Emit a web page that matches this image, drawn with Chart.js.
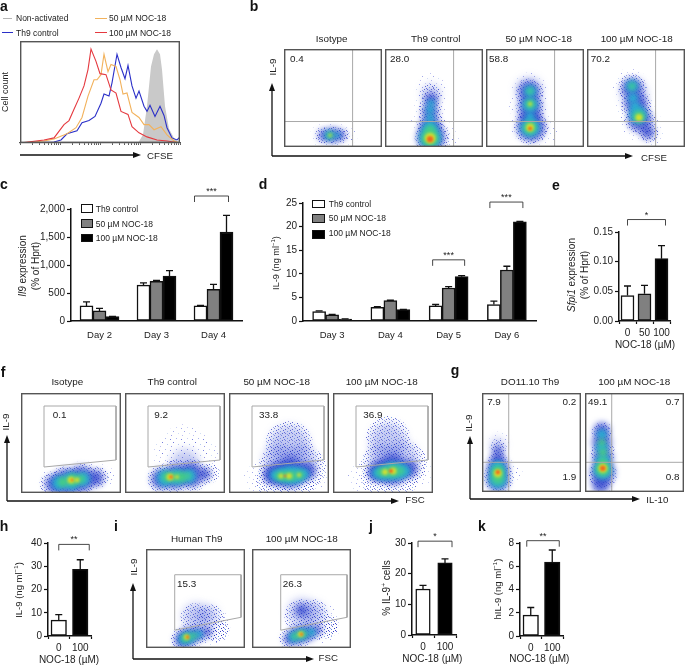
<!DOCTYPE html>
<html>
<head>
<meta charset="utf-8">
<script src="https://cdn.jsdelivr.net/npm/chart.js@4"></script>
<style>
  html, body { margin: 0; padding: 0; background: #fff; }
  #page { position: relative; width: 685px; height: 666px; overflow: hidden; font-family: "Liberation Sans", Arial, sans-serif; color: #222; filter: blur(0.3px); }
  #page canvas { position: absolute; }
  #page svg { position: absolute; left: 0; top: 0; }
  .t { position: absolute; white-space: nowrap; line-height: 1; }
  .t sup { font-size: 65%; line-height: 0; }
  .s { position: absolute; box-sizing: border-box; }
</style>
</head>
<body>
<div id="page"></div>
<script>
// panel a: CFSE histograms, [channel, % of plot height]
const aGrey = [[118,0],[123,8],[127,36],[131,75],[134,87],[137,92],[140,87],[142,72],[145,36],[149,14],[154,5],[159,0]];
const aBlue = [[0,0],[34,1],[41,3],[47,9],[57,12],[62,20],[69,22],[75,26],[81,39],[84,48],[89,46],[92,59],[97,87],[101,74],[105,63],[108,76],[112,56],[116,44],[119,51],[124,36],[127,31],[130,37],[135,26],[140,36],[144,27],[147,15],[152,5],[157,3],[160,6]];
const aOrange = [[0,0],[24,2],[34,4],[47,9],[56,15],[62,25],[68,46],[74,62],[77,62],[81,67],[84,87],[88,70],[91,77],[96,75],[100,62],[103,48],[107,49],[112,30],[119,25],[124,18],[129,18],[134,13],[141,16],[147,8],[154,2],[160,0]];
const aRed = [[0,0],[24,3],[34,5],[44,18],[49,22],[54,33],[59,44],[64,56],[68,72],[71,92],[76,80],[80,68],[86,67],[91,52],[96,49],[101,31],[108,28],[112,16],[119,10],[127,6],[137,3],[147,2],[160,0]];
const aTickVals = [0,12,19,24,28,31,34,36,38,40,52,59,64,68,71,74,76,78,80,92,99,104,108,111,114,116,118,120,132,139,144,148,151,154,156,158,160];

// panel c
const cDays = ["Day 2", "Day 3", "Day 4"];
const cControl = [270, 640, 270];
const c50 = [180, 710, 565];
const c100 = [80, 800, 1590];
const cControlTop = [340, 680, 278];
const c50Top = [225, 725, 655];
const c100Top = [82, 900, 1885];

// panel d
const dDays = ["Day 3", "Day 4", "Day 5", "Day 6"];
const dControl = [2, 2.9, 3.2, 3.5];
const d50 = [1.3, 4.3, 7, 10.8];
const d100 = [0.4, 2.4, 9.4, 21];
const dControlTop = [2.15, 3.05, 3.5, 4.2];
const d50Top = [1.4, 4.4, 7.3, 11.6];
const d100Top = [0.45, 2.45, 9.6, 21.1];

// panels e, h, j, k
const eDose = ["0", "50", "100"];
const eValues = [0.043, 0.046, 0.105];
const eTops = [0.059, 0.06, 0.127];
const twoDose = ["0", "100"];
const hValues = [6.8, 28.7];
const hTops = [9.2, 32.8];
const jValues = [15, 23.5];
const jTops = [16.2, 24.8];
const kValues = [1.8, 6.35];
const kTops = [2.45, 7.4];

// flow plots: density patches as [level, x %, y %, radius]
// level 0 sparse, 1 stipple, 2 haze, 3 blue, 4 cyan, 5 green, 6 yellow, 7 red
const bIsotype = [[0,38,12,11],[0,48,12,13],[0,60,12,11],[0,68,11,7],[1,40,12,8],[1,50,12,9],[1,60,12,7],[3,41,12,6],[3,50,12,7.5],[3,58,12,5],[4,46,12,4.5],[4,54,12,3],[5,47,12,3],[6,47,12,1.5]];
const bControl = [[0,46,60,15],[0,46,45,16],[0,45,28,18],[0,50,12,20],[0,66,6,11],[1,47,55,10],[1,46,40,11],[1,46,25,13],[1,48,10,17],[2,47,55,9],[3,47,48,7],[3,46,36,8],[3,46,22,10],[3,47,10,14],[4,47,45,3.5],[4,46,38,4],[4,46,30,4],[4,46,20,7],[4,46,10,11],[5,46,17,5],[5,46,9,8.5],[6,46,9,5.5],[7,46,8,3.2]];
const b50 = [[0,45,58,18],[0,43,42,19],[0,47,22,21],[0,63,14,10],[1,44,55,14],[1,45,40,14],[1,46,20,17],[2,44,58,13],[2,45,40,13],[3,44,57,10],[3,45,43,10],[3,45,31,10],[3,46,20,14],[4,45,57,6],[4,45,43,7.5],[4,45,31,4.5],[4,45,20,9.5],[5,45,57,3],[5,45,44,4.5],[5,45,20,6.5],[6,45,44,2],[6,45,20,4],[7,45,19,2]];
const b100 = [[0,44,62,18],[0,48,42,20],[0,55,26,20],[0,66,12,13],[1,46,60,14],[1,50,42,15],[1,54,28,15],[1,63,15,10],[2,48,55,13],[3,46,60,10],[3,50,44,11],[3,54,28,12],[3,62,15,7],[4,46,62,6],[4,47,50,5],[4,49,41,5],[4,52,33,8.5],[5,46,62,3],[5,53,31,6],[6,53,30,3.5]];
const fIsotype = [[0,30,9,14],[0,45,11,18],[0,62,14,18],[0,78,16,13],[0,88,17,8],[1,31,9,12],[1,45,11,15],[1,62,14,15],[1,78,16,10],[3,33,9,9],[3,45,11,13],[3,60,14,13],[3,75,15,8],[4,38,10,7],[4,50,12,9],[4,62,14,7],[5,42,11,5],[5,52,13,6],[5,60,14,4],[6,50,13,3.5],[6,56,13,2.5],[7,51,13,1.3]];
const fControl = [[0,60,45,24],[0,48,38,20],[0,75,38,18],[1,35,14,13],[1,50,17,17],[1,68,18,16],[1,85,20,10],[2,60,30,14],[3,36,14,10],[3,50,16,12],[3,66,18,12],[3,80,19,6],[4,40,15,8],[4,52,16,8],[4,64,17,7],[5,42,16,5],[5,50,16,5],[5,57,16,5],[5,63,17,3],[6,45,16,3.5],[6,52,16,2],[7,46,16,1.8]];
const f50 = [[0,30,15,15],[0,85,18,15],[1,60,48,24],[1,52,25,23],[1,75,25,22],[1,45,12,18],[1,68,10,18],[2,60,48,20],[2,50,32,16],[2,72,32,16],[3,42,18,8],[3,50,19,12],[3,62,20,15],[3,78,22,9],[4,46,18,5],[4,52,18,7],[4,60,18,9],[4,68,18,8],[4,75,19,5],[5,50,17,4],[5,56,17,5],[5,63,17,5],[5,71,18,4],[6,52,17,2.5],[6,60,17,3],[6,70,18,2],[7,56,17,1.2]];
const f100 = [[0,28,15,14],[0,88,20,13],[1,55,55,22],[1,50,28,22],[1,72,30,22],[1,45,14,17],[1,68,14,17],[2,55,52,18],[2,50,34,15],[2,70,36,15],[3,42,20,7],[3,48,22,11],[3,60,23,15],[3,76,24,9],[4,44,20,5],[4,50,20,7],[4,58,22,9],[4,66,22,8],[4,72,22,5],[5,48,21,4],[5,54,21,5],[5,61,22,6],[5,68,22,3.5],[6,52,21,3],[6,60,22,3.5],[7,58,22,2]];
const gControl = [[0,18,50,11],[0,20,20,17],[0,33,20,8],[1,16,45,8],[1,16,30,10],[1,17,15,15],[2,16,48,7],[3,16,42,5],[3,16,33,7],[3,16,23,11],[3,16,12,11],[4,16,27,4],[4,16,22,8],[4,16,13,9],[5,16,21,6],[5,16,14,6],[6,16,19,4],[7,16,20,2.2]];
const gNoc = [[0,18,60,11],[0,18,40,13],[0,18,15,15],[1,17,60,10],[1,18,40,12],[1,18,18,14],[3,17,62,8],[3,17,50,9.5],[3,18,35,10],[3,18,20,12],[3,16,8,9],[4,17,58,5],[4,17,45,6],[4,18,32,7],[4,18,22,9],[5,17,50,3.5],[5,18,40,4],[5,18,30,4.5],[5,18,23,7],[6,18,24,4.5],[7,18,24,2.8]];
const iControl = [[0,65,22,20],[1,50,30,15],[1,65,30,14],[1,72,18,12],[1,35,10,10],[1,48,13,12],[1,62,16,9],[1,75,18,7],[2,50,32,13],[2,62,32,11],[3,36,8,7],[3,42,11,9],[3,52,14,7],[3,62,16,5],[4,38,9,5],[4,44,11,6],[4,53,14,4],[5,40,10,4],[5,48,12,3],[6,41,11,2.8],[7,42,11,1.6]];
const iNoc = [[0,70,25,20],[1,50,32,17],[1,62,34,15],[1,75,22,12],[1,36,9,9],[1,50,14,12],[1,65,18,10],[1,80,20,7],[2,50,36,14],[2,62,34,12],[3,38,9,6],[3,46,13,9],[3,56,15,8],[3,66,18,5],[3,50,38,6],[4,42,11,5],[4,50,14,6],[4,60,16,4],[5,44,12,3.5],[5,52,14,3.5],[6,49,14,2.8],[7,50,14,1.5]];

// gates, in % of the plot
const bGateX = 70, bGateY = 26, gGateX = 27, gGateY = 30;
const fGate = [[23,26],[23,87],[95,87],[95,33],[23,26]];
const iGate = [[29,18],[29,74],[96,74],[96,31],[29,18]];

const page = document.getElementById("page");

function label(html, x, y, size, opt) {
  opt = opt || {};
  const d = document.createElement("div");
  d.className = "t";
  d.innerHTML = html;
  d.style.left = x + "px";
  d.style.top = y + "px";
  d.style.fontSize = size + "px";
  if (opt.bold) { d.style.fontWeight = "bold"; d.style.color = "#111"; }
  d.style.transform = opt.left ? "translate(0,-50%)" : "translate(-50%,-50%)" + (opt.rot ? " rotate(-90deg)" : "");
  page.appendChild(d);
}

function swatch(x0, y0, x1, y1, bg, border) {
  const d = document.createElement("div");
  d.className = "s";
  d.style.cssText = `left:${x0}px;top:${y0}px;width:${x1 - x0}px;height:${y1 - y0}px;background:${bg};` + (border ? "border:1.4px solid #111;" : "");
  page.appendChild(d);
}

function addCanvas(x0, y0, x1, y1) {
  const c = document.createElement("canvas");
  c.width = x1 - x0;
  c.height = y1 - y0;
  c.style.left = x0 + "px";
  c.style.top = y0 + "px";
  c.style.width = (x1 - x0) + "px";
  c.style.height = (y1 - y0) + "px";
  page.appendChild(c);
  return c;
}

// upward whiskers, one per bar
const whiskers = {
  id: "whiskers",
  afterDatasetsDraw(chart) {
    const ctx = chart.ctx, y = chart.scales.y;
    ctx.save();
    ctx.strokeStyle = "#111";
    ctx.lineWidth = 1.3;
    chart.data.datasets.forEach((ds, i) => {
      chart.getDatasetMeta(i).data.forEach((bar, n) => {
        const top = y.getPixelForValue(ds.tops[n]);
        ctx.beginPath();
        ctx.moveTo(bar.x, bar.y);
        ctx.lineTo(bar.x, top);
        ctx.moveTo(bar.x - 3.5, top);
        ctx.lineTo(bar.x + 3.5, top);
        ctx.stroke();
      });
    });
    ctx.restore();
  }
};

// significance bracket, anchored on two bars
const brackets = {
  id: "brackets",
  afterDraw(chart) {
    const ctx = chart.ctx;
    (chart.options.plugins.brackets.list || []).forEach(b => {
      const x0 = chart.getDatasetMeta(b.from[0]).data[b.from[1]].x + b.from[2];
      const x1 = chart.getDatasetMeta(b.to[0]).data[b.to[1]].x + b.to[2];
      const y = chart.scales.y.getPixelForValue(b.value);
      ctx.save();
      ctx.strokeStyle = "#333";
      ctx.lineWidth = 0.9;
      ctx.beginPath();
      ctx.moveTo(x0, y + 6);
      ctx.lineTo(x0, y);
      ctx.lineTo(x1, y);
      ctx.lineTo(x1, y + 6);
      ctx.stroke();
      ctx.fillStyle = "#222";
      ctx.font = "9px 'Liberation Sans'";
      ctx.textAlign = "center";
      ctx.fillText(b.text, (x0 + x1) / 2, y - 2);
      ctx.restore();
    });
  }
};

function barChart(box, plot, o) {
  const c = addCanvas(box[0], box[1], box[2], box[3]);
  return new Chart(c, {
    type: "bar",
    data: { labels: o.labels, datasets: o.series.map(s => ({
      data: s.data, tops: s.tops, backgroundColor: s.color, borderColor: "#111",
      borderWidth: 1.5, borderSkipped: false, barThickness: o.barWidth,
      categoryPercentage: o.catPct, barPercentage: 1
    })) },
    plugins: [whiskers, brackets],
    options: {
      responsive: false, animation: false, events: [],
      layout: { padding: { top: plot[1] - box[1], right: box[2] - plot[2], left: 0, bottom: 0 } },
      plugins: { legend: { display: false }, tooltip: { enabled: false }, brackets: { list: o.brackets } },
      scales: {
        x: {
          afterFit: s => { s.height = box[3] - plot[3]; },
          border: { color: "#111", width: 1.5 },
          grid: { display: o.xTicks, drawOnChartArea: false, tickLength: 3, tickColor: "#111", tickWidth: 1.2 },
          ticks: { color: "#222", padding: o.xPad, font: { size: o.xSize, family: "Liberation Sans" }, maxRotation: 0, autoSkip: false }
        },
        y: {
          min: 0, max: o.max,
          afterFit: s => { s.width = plot[0] - box[0]; },
          afterBuildTicks: s => { s.ticks = o.yTicks.map(v => ({ value: v })); },
          border: { color: "#111", width: 1.5 },
          grid: { drawOnChartArea: false, tickLength: 4, tickColor: "#111", tickWidth: 1.2 },
          ticks: { color: "#222", padding: 2, font: { size: o.ySize, family: "Liberation Sans" }, callback: o.yFmt }
        }
      }
    }
  });
}

// stippled fills for the low density fringes of the flow plots
function stipple(size, dots) {
  const t = document.createElement("canvas");
  t.width = t.height = size;
  const tc = t.getContext("2d");
  dots.forEach(d => {
    tc.fillStyle = d[2];
    tc.fillRect(d[0], d[1], 1, 1);
  });
  return tc.createPattern(t, "repeat");
}
const sparseFill = stipple(11, [[1,2,"rgba(90,100,220,.55)"],[7,1,"rgba(140,150,230,.45)"],[4,5,"rgba(70,80,210,.5)"],[9,7,"rgba(140,170,230,.4)"],[2,9,"rgba(110,110,220,.45)"]]);
const denseFill = stipple(7, [[0,1,"rgba(35,45,195,.7)"],[3,0,"rgba(70,90,215,.6)"],[5,2,"rgba(30,40,185,.7)"],[2,3,"rgba(45,110,215,.55)"],[6,4,"rgba(40,50,200,.65)"],[0,5,"rgba(60,70,210,.6)"],[4,5,"rgba(35,45,190,.7)"],[2,6,"rgba(90,110,220,.55)"]]);
const levelFill = [sparseFill, denseFill, "rgba(70,90,215,.3)", "rgba(50,70,205,.8)", "#2aaed2", "#48cf82", "#d6e02e", "#ee6a20"];
const levelBlur = [0, 0, 4, 3, 2.8, 2.4, 1.8, 1.2];

const softBlobs = {
  id: "softBlobs",
  beforeDatasetDraw(chart, args) {
    const b = chart.data.datasets[args.index].blur;
    if (b) chart.ctx.filter = `blur(${b}px)`;
  },
  afterDatasetDraw(chart) { chart.ctx.filter = "none"; }
};
const frame = {
  id: "frame",
  afterDraw(chart) {
    const a = chart.chartArea, ctx = chart.ctx;
    ctx.save();
    ctx.strokeStyle = "#555";
    ctx.lineWidth = 1.4;
    ctx.strokeRect(a.left + 0.7, a.top + 0.7, a.right - a.left - 1.4, a.bottom - a.top - 1.4);
    ctx.restore();
  }
};

function flowPlot(box, blobs, gates) {
  const c = addCanvas(box[0], box[1], box[2], box[3]);
  const sets = gates.map(g => ({
    type: "scatter", showLine: true, fill: false, data: g.map(p => ({ x: p[0], y: p[1] })),
    borderColor: "#a8a8a8", borderWidth: 1, pointRadius: 0, order: -20
  }));
  levelFill.forEach((fill, lv) => {
    const pts = blobs.filter(b => b[0] === lv).map(b => ({ x: b[1], y: b[2], r: b[3] }));
    if (pts.length) sets.push({ data: pts, backgroundColor: fill, borderWidth: 0, blur: levelBlur[lv], order: -lv });
  });
  return new Chart(c, {
    type: "bubble",
    data: { datasets: sets },
    plugins: [softBlobs, frame],
    options: {
      responsive: false, animation: false, events: [],
      layout: { autoPadding: false },
      plugins: { legend: { display: false }, tooltip: { enabled: false } },
      scales: { x: { display: false, min: 0, max: 100 }, y: { display: false, min: 0, max: 100 } }
    }
  });
}

// panel a
const histo = (pts, color, fill) => ({
  type: "scatter", showLine: true, data: pts.map(p => ({ x: p[0], y: p[1] })),
  borderColor: fill ? "#c9c9c9" : color, backgroundColor: fill ? "#c9c9c9" : color,
  borderWidth: fill ? 0 : 1.1, pointRadius: 0, fill: fill ? "origin" : false
});
new Chart(addCanvas(10, 35, 190, 150), {
  type: "scatter",
  data: { datasets: [histo(aRed, "#e5393f"), histo(aOrange, "#f2b25c"), histo(aBlue, "#2a2fc8"), histo(aGrey, "#c9c9c9", true)] },
  plugins: [frame],
  options: {
    responsive: false, animation: false, events: [],
    layout: { autoPadding: false, padding: { top: 6, right: 10, left: 10, bottom: 0 } },
    plugins: { legend: { display: false }, tooltip: { enabled: false } },
    scales: {
      x: {
        min: 0, max: 160,
        afterFit: s => { s.height = 7; },
        afterBuildTicks: s => { s.ticks = aTickVals.map(v => ({ value: v })); },
        border: { color: "#555", width: 1.2 },
        grid: { drawOnChartArea: false, tickLength: 2, tickColor: "#333", tickWidth: 0.8 },
        ticks: { display: false, autoSkip: false }
      },
      y: { display: false, min: 0, max: 100 }
    }
  }
});

// bar panels
const cFmt = v => v.toLocaleString("en-US");
const c3 = (a, b, d, at, bt, dt) => [
  { data: a, tops: at, color: "#fff" },
  { data: b, tops: bt, color: "#808080" },
  { data: d, tops: dt, color: "#000" }
];
barChart([25, 185, 250, 345], [71, 209, 242, 321], {
  labels: cDays, series: c3(cControl, c50, c100, cControlTop, c50Top, c100Top),
  barWidth: 13, catPct: 0.816, max: 2000, yTicks: [0, 500, 1000, 1500, 2000], yFmt: cFmt, ySize: 10, xSize: 9.5, xPad: 6, xTicks: false,
  brackets: [{ from: [0, 2, -6], to: [2, 2, 2], value: 2232, text: "***" }]
});
barChart([280, 185, 545, 345], [303, 203, 536, 321], {
  labels: dDays, series: c3(dControl, d50, d100, dControlTop, d50Top, d100Top),
  barWidth: 13, catPct: 0.824, max: 25, yTicks: [0, 5, 10, 15, 20, 25], yFmt: v => v, ySize: 10, xSize: 9.5, xPad: 6, xTicks: false,
  brackets: [
    { from: [0, 2, -3], to: [2, 2, 3], value: 12.96, text: "***" },
    { from: [0, 3, -4], to: [2, 3, 3], value: 25.2, text: "***" }
  ]
});
barChart([585, 208, 680, 342], [619, 232, 670, 321], {
  labels: eDose, series: [{ data: eValues, tops: eTops, color: ["#fff", "#808080", "#000"] }],
  barWidth: 13, catPct: 1, max: 0.15, yTicks: [0, 0.05, 0.1, 0.15], yFmt: v => v.toFixed(2), ySize: 10, xSize: 10, xPad: 3, xTicks: true,
  brackets: [{ from: [0, 0, 0], to: [0, 2, 4], value: 0.171, text: "*" }]
});
barChart([24, 530, 100, 652], [48, 543, 91, 636], {
  labels: twoDose, series: [{ data: hValues, tops: hTops, color: ["#fff", "#000"] }],
  barWidth: 15.5, catPct: 1, max: 40, yTicks: [0, 10, 20, 30, 40], yFmt: v => v, ySize: 10, xSize: 10, xPad: 3, xTicks: true,
  brackets: [{ from: [0, 0, 0], to: [0, 1, 9], value: 39.4, text: "**" }]
});
barChart([390, 530, 465, 652], [412, 543, 456, 635], {
  labels: twoDose, series: [{ data: jValues, tops: jTops, color: ["#fff", "#000"] }],
  barWidth: 14.5, catPct: 1, max: 30, yTicks: [0, 10, 20, 30], yFmt: v => v, ySize: 10, xSize: 10, xPad: 3, xTicks: true,
  brackets: [{ from: [0, 0, -5], to: [0, 1, 7], value: 30.6, text: "*" }]
});
barChart([504, 530, 572, 652], [520, 543, 563, 636], {
  labels: twoDose, series: [{ data: kValues, tops: kTops, color: ["#fff", "#000"] }],
  barWidth: 15.5, catPct: 1, max: 8, yTicks: [0, 2, 4, 6, 8], yFmt: v => v, ySize: 10, xSize: 10, xPad: 3, xTicks: true,
  brackets: [{ from: [0, 0, -4], to: [0, 1, 7], value: 8.2, text: "**" }]
});

// flow panels
const quad = (x, y) => [[[x, 0], [x, 100]], [[0, y], [100, y]]];
flowPlot([284, 49, 382, 147], bIsotype, quad(bGateX, bGateY));
flowPlot([385, 49, 483, 147], bControl, quad(bGateX, bGateY));
flowPlot([486, 49, 584, 147], b50, quad(bGateX, bGateY));
flowPlot([587, 49, 685, 147], b100, quad(bGateX, bGateY));
flowPlot([21, 393, 121, 493], fIsotype, [fGate]);
flowPlot([125, 393, 225, 493], fControl, [fGate]);
flowPlot([229, 393, 329, 493], f50, [fGate]);
flowPlot([333, 393, 433, 493], f100, [fGate]);
flowPlot([482, 393, 581, 492], gControl, quad(gGateX, gGateY));
flowPlot([585, 393, 684, 492], gNoc, quad(gGateX, gGateY));
flowPlot([146, 549, 245, 648], iControl, [iGate]);
flowPlot([252, 549, 351, 648], iNoc, [iGate]);

// arrows
const arrows = [
  [20, 155, 141, 155], [272, 156, 633, 156], [272, 156, 272, 83], [7, 501, 399, 501], [7, 501, 7, 435],
  [470, 499, 640, 499], [470, 499, 470, 436], [133, 659, 314, 659], [133, 659, 133, 583]
];
let svg = '<svg width="685" height="666" xmlns="http://www.w3.org/2000/svg">';
arrows.forEach(a => {
  const ux = Math.sign(a[2] - a[0]), uy = Math.sign(a[3] - a[1]);
  svg += `<line x1="${a[0]}" y1="${a[1]}" x2="${a[2] - ux * 6}" y2="${a[3] - uy * 6}" stroke="#111" stroke-width="1.3"/>`;
  const bx = a[2] - ux * 8, by = a[3] - uy * 8;
  svg += `<polygon fill="#111" points="${a[2]},${a[3]} ${bx + uy * 3},${by + ux * 3} ${bx - uy * 3},${by - ux * 3}"/>`;
});
page.insertAdjacentHTML("beforeend", svg + "</svg>");

// legends
swatch(3, 17.5, 12, 18.7, "#b5b5b5");
swatch(2, 31.5, 13, 32.8, "#2a2fc8");
swatch(95, 17.5, 107, 18.7, "#f2b25c");
swatch(95, 31.5, 107, 32.8, "#e5393f");
swatch(81, 204, 92.5, 213, "#fff", 1);
swatch(81, 219, 92.5, 228, "#808080", 1);
swatch(81, 234, 92.5, 242, "#000", 1);
swatch(311.5, 199.5, 324.5, 208, "#fff", 1);
swatch(311.5, 214, 324.5, 222.5, "#808080", 1);
swatch(311.5, 229.5, 324.5, 238.5, "#000", 1);

const uM = "\u00b5M";
const noc = "NOC-18 (\u00b5M)";
const ilNg = 'IL-9 (ng ml<sup>\u22121</sup>)';
[["a",4,6],["b",254,6],["c",4,184],["d",263,184],["e",556,185],["f",3,372],["g",455,370],["h",4,526],["i",116,526],["j",371,526],["k",482,526]]
  .forEach(p => label(p[0], p[1], p[2], 14, { bold: true }));

const big = 9.9, leg = 8.5;
label("Non-activated", 16, 18, leg, { left: true });
label("Th9 control", 16, 32.5, leg, { left: true });
label("50 " + uM + " NOC-18", 109, 18, leg, { left: true });
label("100 " + uM + " NOC-18", 109, 32.5, leg, { left: true });
label("Cell count", 5, 92, 9, { rot: true });
label("CFSE", 160, 156, 9.7);

label("Isotype", 331.7, 39, big);
label("Th9 control", 435.7, 39, big);
label("50 " + uM + " NOC-18", 538.7, 39, big);
label("100 " + uM + " NOC-18", 636.7, 39, big);
label("0.4", 290, 59, big, { left: true });
label("28.0", 390, 59, big, { left: true });
label("58.8", 489, 59, big, { left: true });
label("70.2", 590.7, 59, big, { left: true });
label("IL-9", 273, 67, big, { rot: true });
label("CFSE", 654, 157.7, 9.7);

label("<i>Il9</i> expression", 23, 266, 10, { rot: true });
label("(% of Hprt)", 36, 266, 10, { rot: true });
label("Th9 control", 95.7, 208.5, leg, { left: true });
label("50 " + uM + " NOC-18", 95.7, 223.5, leg, { left: true });
label("100 " + uM + " NOC-18", 95.7, 238, leg, { left: true });

label(ilNg, 277, 263, 9.2, { rot: true });
label("Th9 control", 328.7, 203.7, leg, { left: true });
label("50 " + uM + " NOC-18", 328.7, 218, leg, { left: true });
label("100 " + uM + " NOC-18", 328.7, 233, leg, { left: true });

label("<i>Sfpi1</i> expression", 572.3, 275, 10, { rot: true });
label("(% of Hprt)", 585, 275, 10, { rot: true });
label(noc, 645, 345, 10);

label("Isotype", 67.3, 381.7, big);
label("Th9 control", 172.3, 381.7, big);
label("50 " + uM + " NOC-18", 276.7, 381.7, big);
label("100 " + uM + " NOC-18", 381.7, 381.7, big);
label("0.1", 52.7, 415, big, { left: true });
label("9.2", 154.3, 415, big, { left: true });
label("33.8", 259, 415, big, { left: true });
label("36.9", 363.3, 415, big, { left: true });
label("IL-9", 6, 421.7, big, { rot: true });
label("FSC", 415, 500, 9.7);

label("DO11.10 Th9", 530, 382.3, big);
label("100 " + uM + " NOC-18", 634.3, 382.3, big);
label("7.9", 494, 401.7, big);
label("0.2", 569.3, 401.7, big);
label("1.9", 569.3, 476.7, big);
label("49.1", 597.7, 401.7, big);
label("0.7", 672.7, 401.7, big);
label("0.8", 672.7, 476.7, big);
label("IL-9", 469, 422.7, big, { rot: true });
label("IL-10", 657.3, 500, 9.7);

label(ilNg, 19.3, 590, 9.5, { rot: true });
label(noc, 69, 660, 10);

label("Human Th9", 196.7, 539, big);
label("100 " + uM + " NOC-18", 301.7, 539, big);
label("15.3", 177, 584, big, { left: true });
label("26.3", 282.7, 584, big, { left: true });
label("IL-9", 133.7, 567, big, { rot: true });
label("FSC", 328.3, 658, 9.7);

label("% IL-9<sup>+</sup> cells", 387.3, 588, 10, { rot: true });
label(noc, 432.3, 659, 10);
label("hIL-9 (ng ml<sup>\u22121</sup>)", 497.7, 589, 9.5, { rot: true });
label(noc, 539.3, 659, 10);
</script>
</body>
</html>
